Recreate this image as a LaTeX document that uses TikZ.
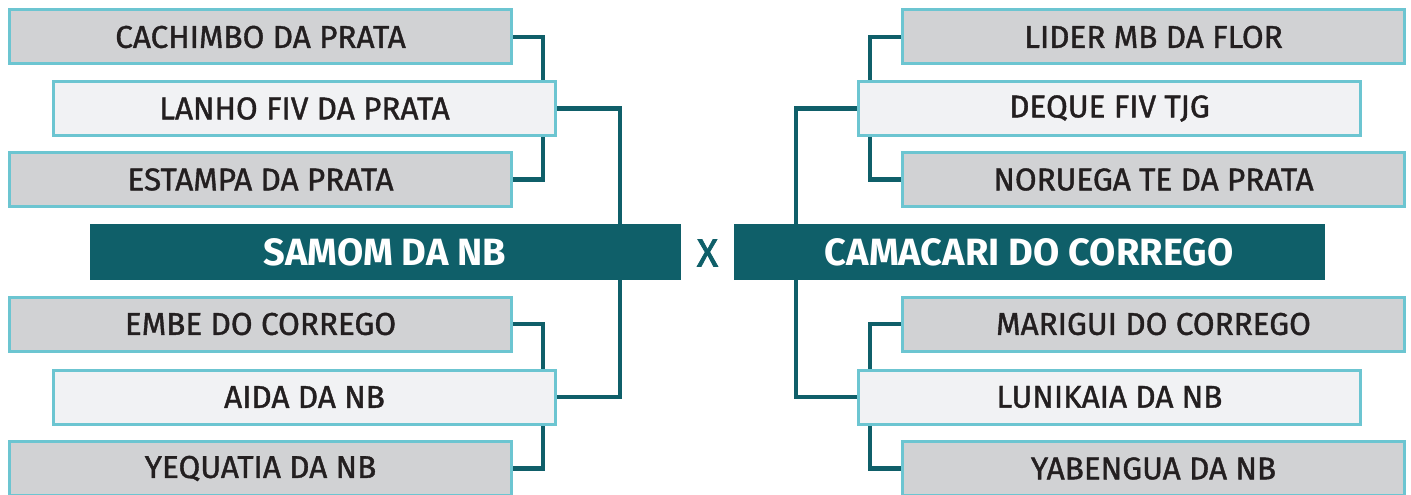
\documentclass[tikz,border=0pt]{standalone}
\usepackage{fontspec}
\setmainfont{Fira Sans}
\newfontfamily\boxfont{Fira Sans}[FakeBold=1.2]
\newfontfamily\xfont{Fira Sans}[FakeBold=2]
\usetikzlibrary{backgrounds}
\definecolor{teal1}{HTML}{0F5F69}
\definecolor{cyanb}{HTML}{6CC5D1}
\definecolor{grayf}{HTML}{D1D2D4}
\definecolor{whitef}{HTML}{F1F2F4}
\definecolor{txt}{HTML}{231F20}
\tikzset{
  graybox/.style={draw=cyanb, line width=3pt, fill=grayf, minimum width=502pt, minimum height=54pt, inner sep=0pt, text=txt, font=\boxfont\fontsize{31.5}{31.5}\selectfont},
  whitebox/.style={graybox, fill=whitef},
  bar/.style={fill=teal1, minimum width=591pt, minimum height=56pt, inner sep=0pt, text=white, font=\bfseries\fontsize{38}{38}\selectfont},
  conn/.style={draw=teal1, line width=4.5pt}
}
\begin{document}
\begin{tikzpicture}[x=1pt,y=-1pt]
\useasboundingbox (0,0) rectangle (1411,495);
% left side
\node[graybox]  (c1) at (260.5,37)  {CACHIMBO DA PRATA};
\node[whitebox] (l1) at (304.5,108.5) {LANHO FIV DA PRATA};
\node[graybox]  (e1) at (260.5,179.5) {ESTAMPA DA PRATA};
\node[graybox]  (c2) at (260.5,324) {EMBE DO CORREGO};
\node[whitebox] (l2) at (304.5,397) {AIDA DA NB};
\node[graybox]  (e2) at (260.5,468.5) {YEQUATIA DA NB};
% right side
\node[graybox]  (c3) at (1153.5,37)  {LIDER MB DA FLOR};
\node[whitebox] (l3) at (1109.5,108.5) {DEQUE FIV TJG};
\node[graybox]  (e3) at (1153.5,179.5) {NORUEGA TE DA PRATA};
\node[graybox]  (c4) at (1153.5,324) {MARIGUI DO CORREGO};
\node[whitebox] (l4) at (1109.5,397) {LUNIKAIA DA NB};
\node[graybox]  (e4) at (1153.5,468.5) {YABENGUA DA NB};
% bars
\node[bar] (sa) at (385,252) {SAMOM DA NB};
\node[bar] (ca) at (1029,252) {CAMACARI DO CORREGO};
\node[text=teal1, font=\xfont\fontsize{39}{39}\selectfont, inner sep=0pt] (x) at (707.5,253) {X};
% junction x positions
\coordinate (jL) at (543,0);
\coordinate (jLo) at (620,0);
\coordinate (jR) at (870,0);
\coordinate (jRo) at (796,0);
\begin{pgfonlayer}{background}
\draw[conn] (c1.east) -| (l1.north -| jL);
\draw[conn] (e1.east) -| (l1.south -| jL);
\draw[conn] (c2.east) -| (l2.north -| jL);
\draw[conn] (e2.east) -| (l2.south -| jL);
\draw[conn] (l1.east) -| (sa.north -| jLo);
\draw[conn] (l2.east) -| (sa.south -| jLo);
\draw[conn] (c3.west) -| (l3.north -| jR);
\draw[conn] (e3.west) -| (l3.south -| jR);
\draw[conn] (c4.west) -| (l4.north -| jR);
\draw[conn] (e4.west) -| (l4.south -| jR);
\draw[conn] (l3.west) -| (ca.north -| jRo);
\draw[conn] (l4.west) -| (ca.south -| jRo);
\end{pgfonlayer}
\end{tikzpicture}
\end{document}
